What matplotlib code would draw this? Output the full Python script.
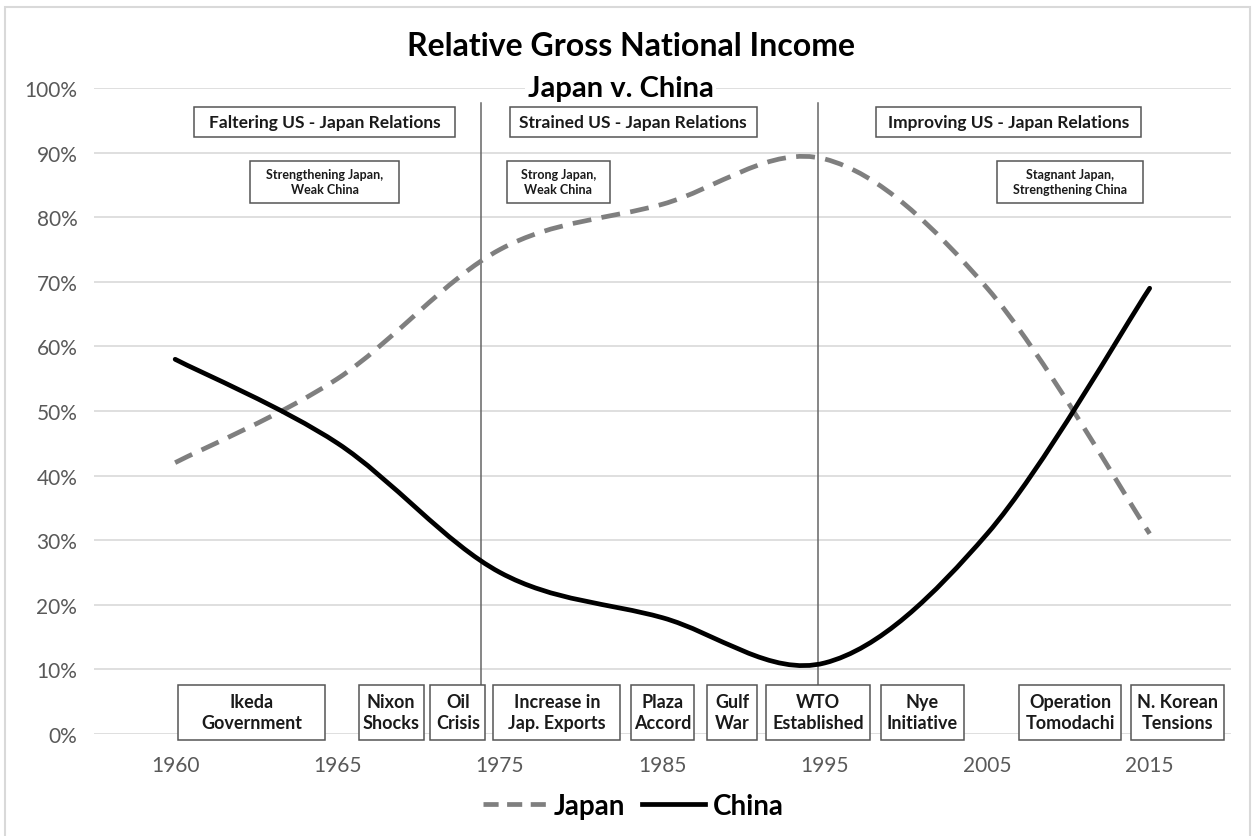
import matplotlib.pyplot as plt
from matplotlib.path import Path
from matplotlib.patches import PathPatch, Rectangle
from matplotlib.lines import Line2D

plt.rcParams['font.family'] = ['Lato', 'DejaVu Sans']

# data: share of combined GNI (%)
years = ['1960', '1965', '1975', '1985', '1995', '2005', '2015']
japan = [42, 55, 75, 82, 89, 69, 31]
china = [58, 45, 25, 18, 11, 31, 69]

era_labels = ['Faltering US - Japan Relations',
              'Strained US - Japan Relations',
              'Improving US - Japan Relations']
balance_labels = ['Strengthening Japan,\nWeak China',
                  'Strong Japan,\nWeak China',
                  'Stagnant Japan,\nStrengthening China']
event_labels = ['Ikeda\nGovernment', 'Nixon\nShocks', 'Oil\nCrisis',
                'Increase in\nJap. Exports', 'Plaza\nAccord', 'Gulf\nWar',
                'WTO\nEstablished', 'Nye\nInitiative', 'Operation\nTomodachi',
                'N. Korean\nTensions']

# layout of the annotation boxes (category-axis position, box width)
era_pos = [(0.92, 1.61), (2.82, 1.52), (5.13, 1.63)]
balance_pos = [(0.92, 0.92), (2.36, 0.63), (5.51, 0.90)]
event_pos = [(0.47, 0.90), (1.33, 0.40), (1.74, 0.34), (2.35, 0.78),
             (3.00, 0.385), (3.43, 0.31), (3.96, 0.64), (4.60, 0.51),
             (5.51, 0.63), (6.17, 0.57)]
dividers = [1.88, 3.96]

GRID = '#d9d9d9'
TXT = '#595959'
EDGE = '#555555'


def smooth_path(ys):
    # Excel-style smoothed line: cubic Bezier segments through each point
    pts = list(zip(range(len(ys)), ys))
    ext = [pts[0]] + pts + [pts[-1]]
    verts = [pts[0]]
    codes = [Path.MOVETO]
    for i in range(len(pts) - 1):
        p0, p1, p2, p3 = ext[i], ext[i + 1], ext[i + 2], ext[i + 3]
        c1 = (p1[0] + (p2[0] - p0[0]) / 6, p1[1] + (p2[1] - p0[1]) / 6)
        c2 = (p2[0] - (p3[0] - p1[0]) / 6, p2[1] - (p3[1] - p1[1]) / 6)
        verts += [c1, c2, p2]
        codes += [Path.CURVE4] * 3
    return Path(verts, codes)


fig = plt.figure(figsize=(12.56, 8.37), dpi=100)
ax = fig.add_axes([0.0748, 0.1219, 0.9052, 0.7718])
ax.set_xlim(-0.5, 6.5)
ax.set_ylim(0, 100)

ax.set_yticks(range(0, 101, 10))
ax.set_yticklabels([f'{v}%' for v in range(0, 101, 10)])
ax.set_xticks(range(len(years)))
ax.set_xticklabels(years)
ax.tick_params(length=0, labelsize=15, labelcolor=TXT)
ax.tick_params(axis='y', pad=12)
ax.tick_params(axis='x', pad=15)
ax.grid(axis='y', color=GRID, lw=1.2)
ax.set_axisbelow(True)
for s in ax.spines.values():
    s.set_visible(False)

for d in dividers:
    ax.plot([d, d], [7.6, 97.7], color='#666666', lw=1.1, zorder=2)

ax.add_patch(PathPatch(smooth_path(japan), fill=False, edgecolor='#7f7f7f',
                       lw=3.4, linestyle=(0, (4, 2.2)), capstyle='butt', zorder=3))
ax.add_patch(PathPatch(smooth_path(china), fill=False, edgecolor='black',
                       lw=3.4, capstyle='round', zorder=3))


def box(label, cx, w, y0, h, size):
    ax.add_patch(Rectangle((cx - w / 2, y0), w, h, facecolor='white',
                           edgecolor=EDGE, lw=1.1, clip_on=False, zorder=5))
    ax.text(cx, y0 + h / 2, label, ha='center', va='center', fontsize=size,
            fontweight='bold', color='#1a1a1a', linespacing=1.3, zorder=6,
            clip_on=False)


for lab, (cx, w) in zip(era_labels, era_pos):
    box(lab, cx, w, 92.4, 4.65, 12.5)
for lab, (cx, w) in zip(balance_labels, balance_pos):
    box(lab, cx, w, 82.2, 6.5, 9)
for lab, (cx, w) in zip(event_labels, event_pos):
    box(lab, cx, w, -0.9, 8.5, 13)

fig.text(0.502, 0.944, 'Relative Gross National Income', ha='center',
         va='center', fontsize=23, fontweight='bold', color='black')
fig.text(0.494, 0.894, 'Japan v. China', ha='center', va='center',
         fontsize=21, fontweight='bold', color='black',
         bbox=dict(facecolor='white', edgecolor='none', pad=2))

handles = [Line2D([], [], color='#7f7f7f', lw=3.4, linestyle=(0, (3.2, 1.8))),
           Line2D([], [], color='black', lw=3.4)]
fig.legend(handles, ['Japan', 'China'], loc='center', ncol=2,
           bbox_to_anchor=(0.504, 0.036), frameon=False,
           prop={'size': 20, 'weight': 'bold'}, handlelength=2.3,
           handletextpad=0.25, columnspacing=0.6)

fig.add_artist(Rectangle((5 / 1256, -0.01), 1245 / 1256, 1.01 - 8 / 837,
                         transform=fig.transFigure, fill=False,
                         edgecolor=GRID, lw=1.5))

fig.savefig('out.png', dpi=100)
